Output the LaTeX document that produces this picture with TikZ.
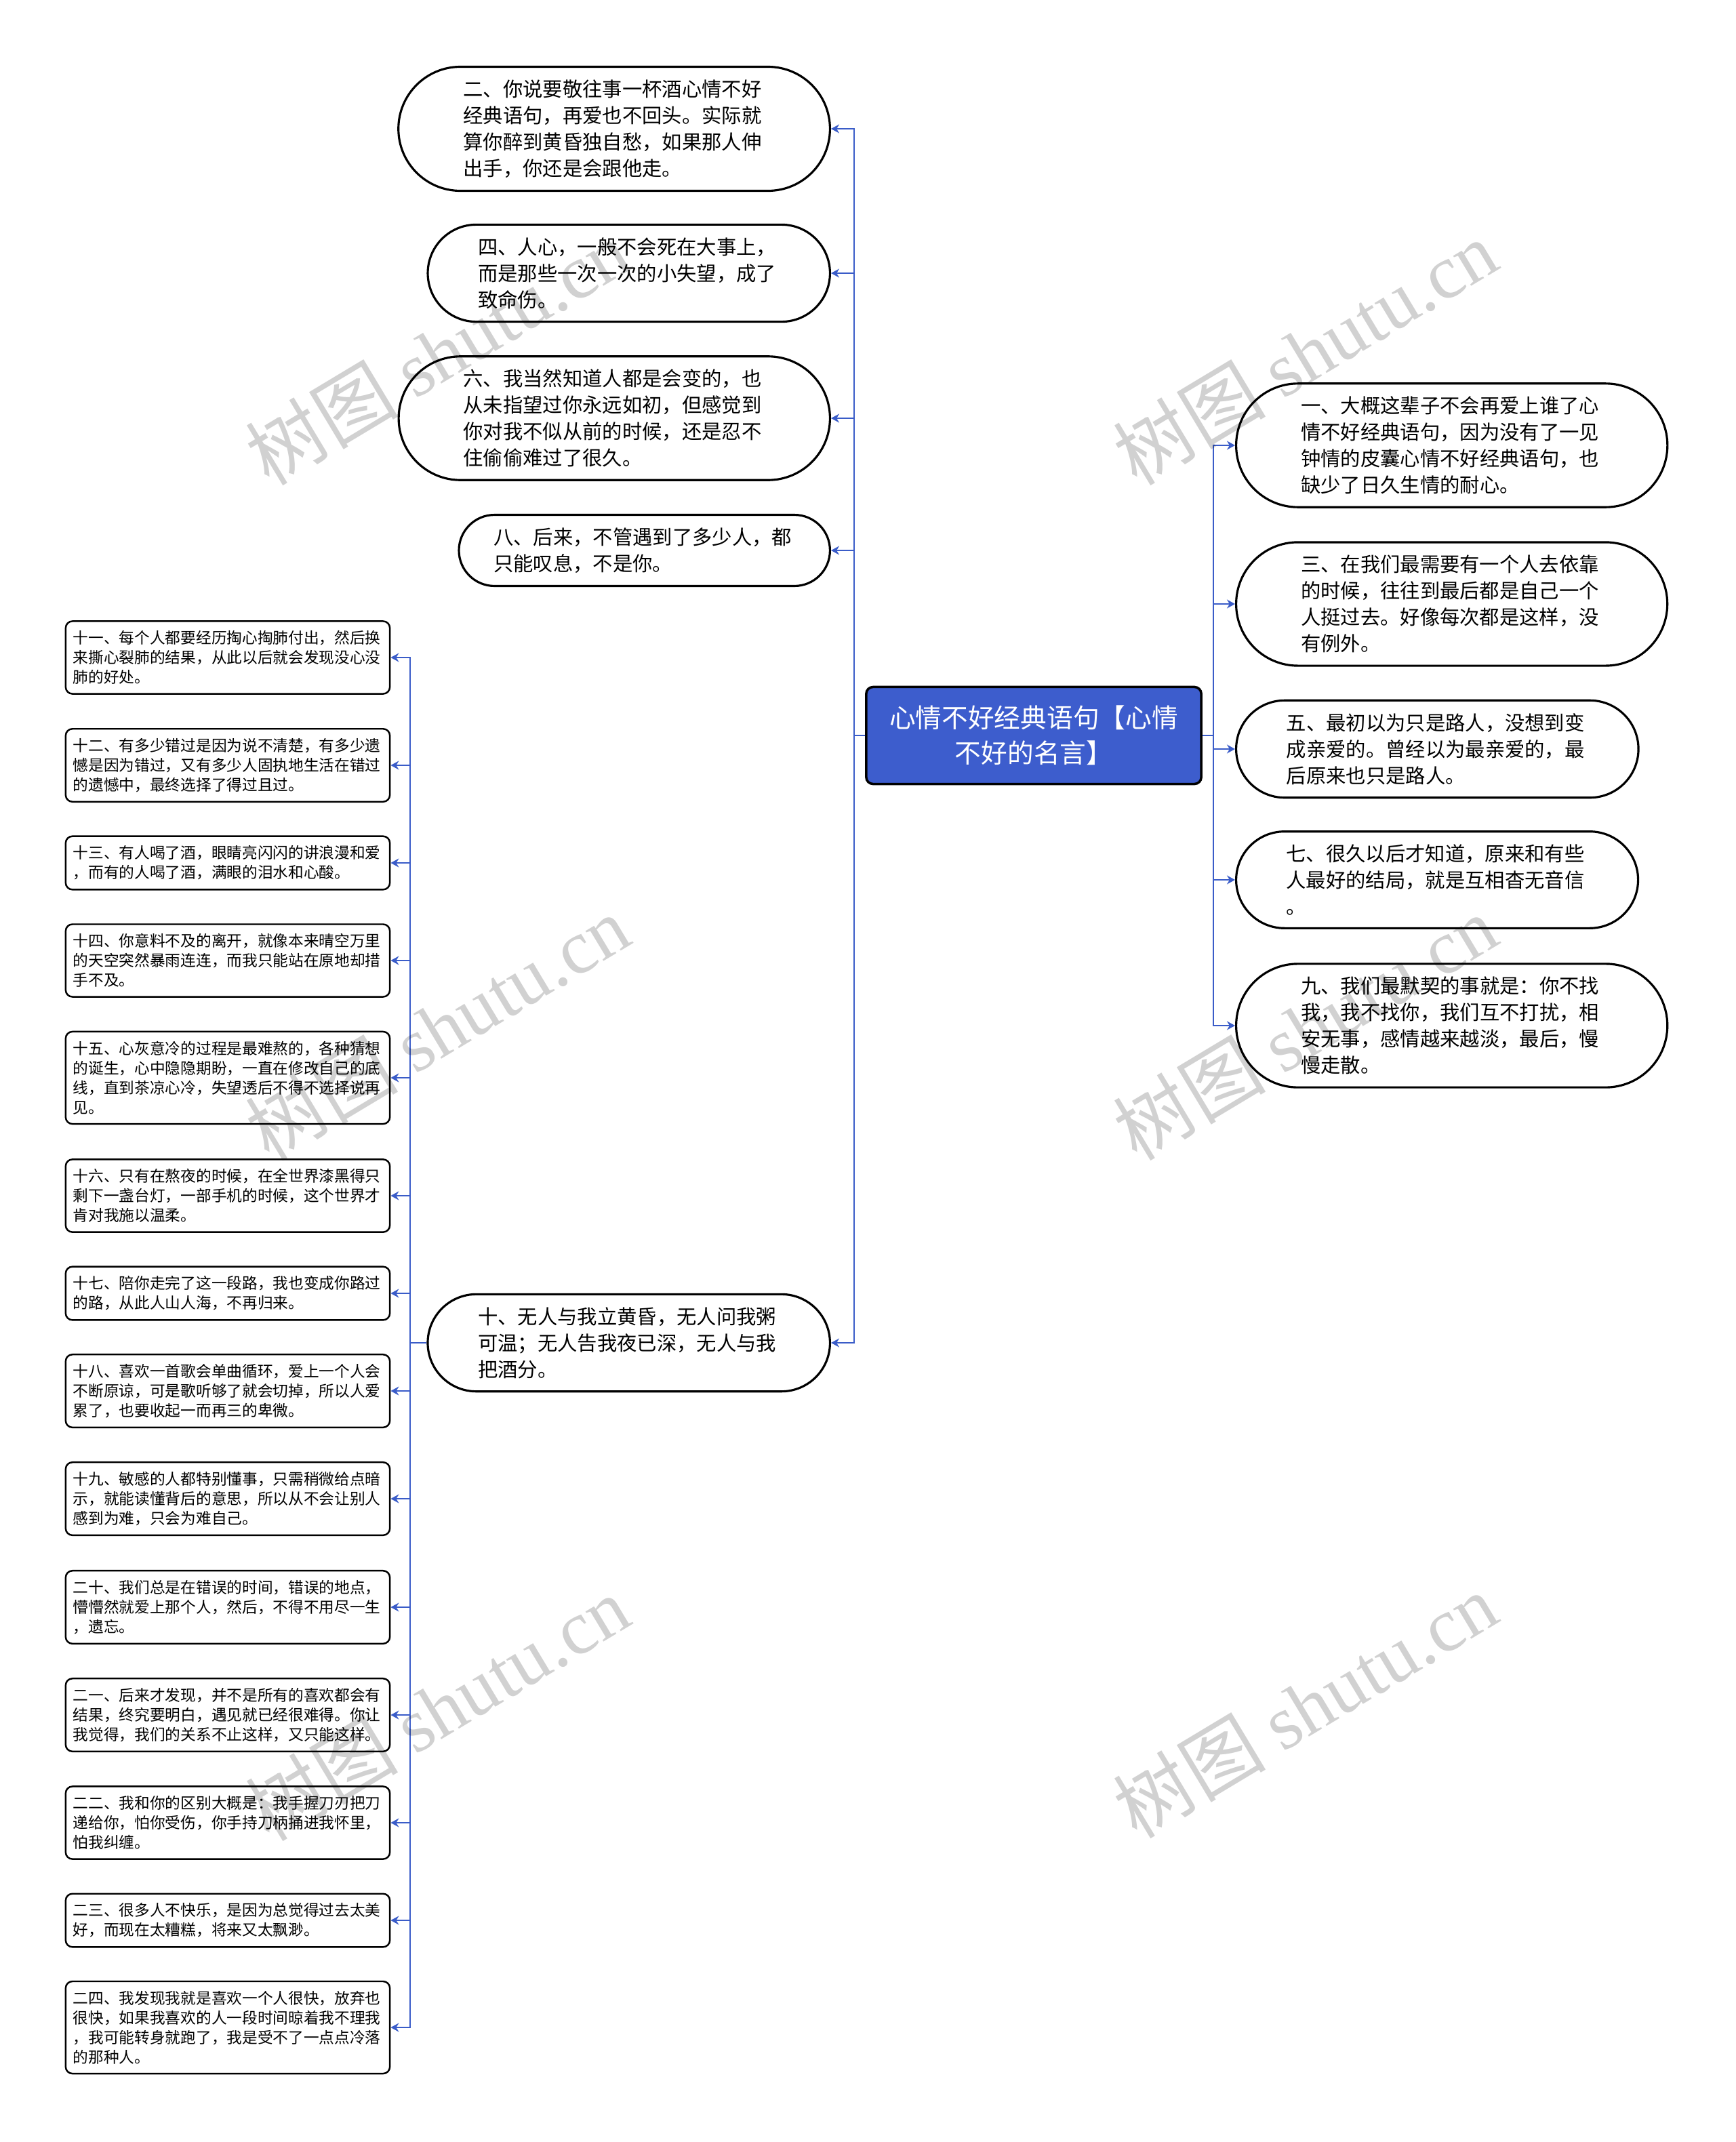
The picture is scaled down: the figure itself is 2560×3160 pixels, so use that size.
\documentclass[tikz,border=0pt]{standalone}
\usepackage{fontspec}
\setmainfont{Noto Sans CJK SC}
\newfontfamily\wmserif{Liberation Serif}
\usetikzlibrary{shapes.misc,arrows.meta}
\definecolor{rootblue}{HTML}{3D5DCD}
\definecolor{linkblue}{HTML}{3A5CC8}
\tikzset{
  bigbox/.style={rounded rectangle,draw=black,line width=0.9pt,fill=white,
    text width=4.45cm,align=left,inner xsep=0.6cm,inner ysep=0.19cm,
    font=\fontsize{8.34pt}{11.1pt}\selectfont},
  three/.style={inner xsep=0.51cm},
  two/.style={inner xsep=0.39cm},
  smallbox/.style={rectangle,rounded corners=0.1cm,draw=black,line width=0.7pt,fill=white,
    text width=4.56cm,align=left,inner xsep=0.11cm,inner ysep=0.14cm,
    font=\fontsize{6.45pt}{8.25pt}\selectfont},
  rootbox/.style={rectangle,rounded corners=0.1cm,draw=black,line width=1pt,fill=rootblue,
    text=white,align=center,minimum width=4.94cm,minimum height=1.43cm,
    font=\fontsize{11pt}{14.8pt}\selectfont},
  conn/.style={draw=linkblue,line width=0.6pt,-{Stealth[length=0.12cm,width=0.13cm]}},
  wm/.style={text=black,text opacity=0.18,rotate=31,font=\fontsize{32pt}{32pt}\selectfont}
}

\begin{document}
\begin{tikzpicture}[x=0.01cm,y=-0.01cm]
\useasboundingbox (0,0) rectangle (2560,3160);

\node[rootbox] (root) at (1525,1085) {心情不好经典语句【心情\\不好的名言】};

% left column
\node[bigbox,anchor=east] (n2) at (1226,190) {二、你说要敬往事一杯酒心情不好\\经典语句，再爱也不回头。实际就\\算你醉到黄昏独自愁，如果那人伸\\出手，你还是会跟他走。};
\node[bigbox,three,anchor=east] (n4) at (1226,403) {四、人心，一般不会死在大事上，\\而是那些一次一次的小失望，成了\\致命伤。};
\node[bigbox,anchor=east] (n6) at (1226,617) {六、我当然知道人都是会变的，也\\从未指望过你永远如初，但感觉到\\你对我不似从前的时候，还是忍不\\住偷偷难过了很久。};
\node[bigbox,two,anchor=east] (n8) at (1226,812) {八、后来，不管遇到了多少人，都\\只能叹息，不是你。};
\node[bigbox,three,anchor=east] (n10) at (1226,1981) {十、无人与我立黄昏，无人问我粥\\可温；无人告我夜已深，无人与我\\把酒分。};

% right column
\node[bigbox,anchor=west] (n1) at (1822,657) {一、大概这辈子不会再爱上谁了心\\情不好经典语句，因为没有了一见\\钟情的皮囊心情不好经典语句，也\\缺少了日久生情的耐心。};
\node[bigbox,anchor=west] (n3) at (1822,891) {三、在我们最需要有一个人去依靠\\的时候，往往到最后都是自己一个\\人挺过去。好像每次都是这样，没\\有例外。};
\node[bigbox,three,anchor=west] (n5) at (1822,1105) {五、最初以为只是路人，没想到变\\成亲爱的。曾经以为最亲爱的，最\\后原来也只是路人。};
\node[bigbox,three,anchor=west] (n7) at (1822,1298) {七、很久以后才知道，原来和有些\\人最好的结局，就是互相杳无音信\\。};
\node[bigbox,anchor=west] (n9) at (1822,1513) {九、我们最默契的事就是：你不找\\我，我不找你，我们互不打扰，相\\安无事，感情越来越淡，最后，慢\\慢走散。};

% children of ten
\node[smallbox] (s11) at (336,970) {十一、每个人都要经历掏心掏肺付出，然后换\\来撕心裂肺的结果，从此以后就会发现没心没\\肺的好处。};
\node[smallbox] (s12) at (336,1129) {十二、有多少错过是因为说不清楚，有多少遗\\憾是因为错过，又有多少人固执地生活在错过\\的遗憾中，最终选择了得过且过。};
\node[smallbox] (s13) at (336,1273) {十三、有人喝了酒，眼睛亮闪闪的讲浪漫和爱\\，而有的人喝了酒，满眼的泪水和心酸。};
\node[smallbox] (s14) at (336,1417) {十四、你意料不及的离开，就像本来晴空万里\\的天空突然暴雨连连，而我只能站在原地却措\\手不及。};
\node[smallbox] (s15) at (336,1590) {十五、心灰意冷的过程是最难熬的，各种猜想\\的诞生，心中隐隐期盼，一直在修改自己的底\\线，直到茶凉心冷，失望透后不得不选择说再\\见。};
\node[smallbox] (s16) at (336,1764) {十六、只有在熬夜的时候，在全世界漆黑得只\\剩下一盏台灯，一部手机的时候，这个世界才\\肯对我施以温柔。};
\node[smallbox] (s17) at (336,1908) {十七、陪你走完了这一段路，我也变成你路过\\的路，从此人山人海，不再归来。};
\node[smallbox] (s18) at (336,2052) {十八、喜欢一首歌会单曲循环，爱上一个人会\\不断原谅，可是歌听够了就会切掉，所以人爱\\累了，也要收起一而再三的卑微。};
\node[smallbox] (s19) at (336,2211) {十九、敏感的人都特别懂事，只需稍微给点暗\\示，就能读懂背后的意思，所以从不会让别人\\感到为难，只会为难自己。};
\node[smallbox] (s20) at (336,2371) {二十、我们总是在错误的时间，错误的地点，\\懵懵然就爱上那个人，然后，不得不用尽一生\\，遗忘。};
\node[smallbox] (s21) at (336,2530) {二一、后来才发现，并不是所有的喜欢都会有\\结果，终究要明白，遇见就已经很难得。你让\\我觉得，我们的关系不止这样，又只能这样。};
\node[smallbox] (s22) at (336,2689) {二二、我和你的区别大概是：我手握刀刃把刀\\递给你，怕你受伤，你手持刀柄捅进我怀里，\\怕我纠缠。};
\node[smallbox] (s23) at (336,2833) {二三、很多人不快乐，是因为总觉得过去太美\\好，而现在太糟糕，将来又太飘渺。};
\node[smallbox] (s24) at (336,2991) {二四、我发现我就是喜欢一个人很快，放弃也\\很快，如果我喜欢的人一段时间晾着我不理我\\，我可能转身就跑了，我是受不了一点点冷落\\的那种人。};

% trunks
\coordinate (lt) at (1260,1085);
\coordinate (rt) at (1790,1085);
\coordinate (ft) at (605,1981);

\foreach \n in {n2,n4,n6,n8,n10}
  \draw[conn] (root.west) -- (lt) |- (\n.east);
\foreach \n in {n1,n3,n5,n7,n9}
  \draw[conn] (root.east) -- (rt) |- (\n.west);
\foreach \n in {s11,s12,s13,s14,s15,s16,s17,s18,s19,s20,s21,s22,s23,s24}
  \draw[conn] (n10.west) -- (ft) |- (\n.east);

% watermarks
\node[wm] (w1) at (645,520) {树图 {\wmserif shutu.cn}};
\node[wm] (w2) at (1925,520) {树图 {\wmserif shutu.cn}};
\node[wm] (w3) at (645,1516) {树图 {\wmserif shutu.cn}};
\node[wm] (w4) at (1925,1516) {树图 {\wmserif shutu.cn}};
\node[wm] (w5) at (645,2520) {树图 {\wmserif shutu.cn}};
\node[wm] (w6) at (1925,2516) {树图 {\wmserif shutu.cn}};
\end{tikzpicture}
\end{document}
